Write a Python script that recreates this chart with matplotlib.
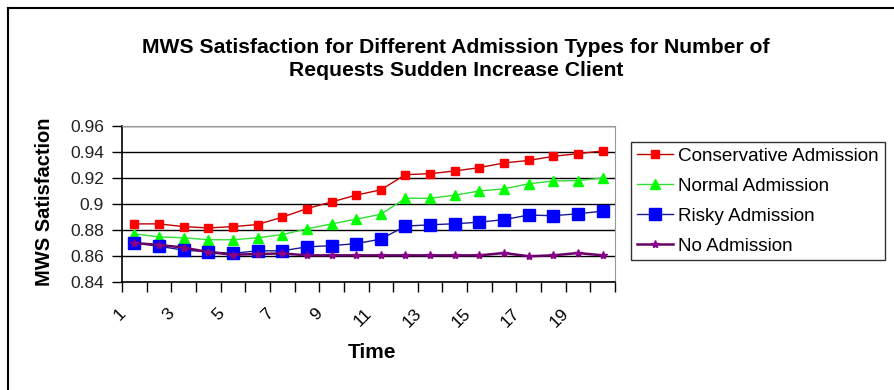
import matplotlib
matplotlib.use("Agg")
import matplotlib.pyplot as plt
from matplotlib.lines import Line2D
import matplotlib.transforms as mtransforms
from matplotlib import font_manager

names = {f.name for f in font_manager.fontManager.ttflist}
FONT = "Liberation Sans" if "Liberation Sans" in names else "DejaVu Sans"
plt.rcParams["font.family"] = FONT

time = list(range(1, 21))
tick_labels = ["1", "3", "5", "7", "9", "11", "13", "15", "17", "19"]
conservative = [0.8847, 0.8847, 0.8826, 0.8816, 0.8826, 0.8842, 0.8899, 0.8964, 0.9016, 0.9068,
                0.9109, 0.9226, 0.9233, 0.9254, 0.9280, 0.9316, 0.9335, 0.9367, 0.9387, 0.9408]
normal = [0.8770, 0.8747, 0.8740, 0.8725, 0.8725, 0.8740, 0.8765, 0.8808, 0.8847, 0.8883,
          0.8921, 0.9044, 0.9044, 0.9068, 0.9100, 0.9117, 0.9156, 0.9177, 0.9180, 0.9200]
risky = [0.8700, 0.8675, 0.8645, 0.8633, 0.8620, 0.8640, 0.8640, 0.8670, 0.8680, 0.8695,
         0.8730, 0.8830, 0.8840, 0.8848, 0.8860, 0.8880, 0.8915, 0.8910, 0.8925, 0.8945]
no_adm = [0.8700, 0.8685, 0.8665, 0.8630, 0.8610, 0.8615, 0.8620, 0.8605, 0.8605, 0.8605,
          0.8605, 0.8605, 0.8605, 0.8605, 0.8605, 0.8623, 0.8598, 0.8605, 0.8623, 0.8605]
yticks = [0.84, 0.86, 0.88, 0.90, 0.92, 0.94, 0.96]
ytick_labels = ["0.84", "0.86", "0.88", "0.9", "0.92", "0.94", "0.96"]

fig = plt.figure(figsize=(8.94, 3.9), dpi=100)
ax = fig.add_axes([122 / 894, 1 - 282 / 390, (615 - 122) / 894, (282 - 126) / 390])

ax.plot(time, conservative, color="#C00000", lw=1.0, marker="s", ms=6,
        mfc="#FF0000", mec="#FF0000", label="Conservative Admission", zorder=5)
ax.plot(time, normal, color="#33DD33", lw=1.0, marker="^", ms=7,
        mfc="#00FF00", mec="#00FF00", label="Normal Admission", zorder=5)
ax.plot(time, risky, color="#1A1A90", lw=1.0, marker="s", ms=9,
        mfc="#0000FF", mec="#0000FF", label="Risky Admission", zorder=5)
ax.plot(time, no_adm, color="#660066", lw=1.8, marker="*", ms=6,
        mfc="#880088", mec="#880088", label="No Admission", zorder=5)

ax.set_xlim(0.5, 20.5)
ax.set_ylim(0.84, 0.96)
ax.set_yticks(yticks)
ax.set_yticklabels(ytick_labels, fontsize=12.5, color="#222222")
ax.yaxis.grid(True, color="black", lw=1.0)
ax.set_axisbelow(True)

ax.set_xticks([i + 0.5 for i in range(0, 21)], minor=True)
ax.set_xticks([int(t) for t in tick_labels])
ax.set_xticklabels(tick_labels, fontsize=12.5, rotation=45, ha="right", va="top")
ax.tick_params(axis="x", which="major", length=0, pad=17)
ax.tick_params(axis="x", which="minor", length=7, width=1, direction="out")
ax.tick_params(axis="y", length=7, width=1, direction="out", pad=6)
off = mtransforms.ScaledTranslation(-6 / 100, 0, fig.dpi_scale_trans)
for lab in ax.get_xticklabels():
    lab.set_transform(lab.get_transform() + off)

for s in ["top", "right"]:
    ax.spines[s].set_color("#999999")
for s in ["left", "bottom"]:
    ax.spines[s].set_color("black")
    ax.spines[s].set_linewidth(1.2)

fig.text(45 / 894, 1 - 202 / 390, "MWS Satisfaction", fontsize=14.5, fontweight="bold",
         rotation=90, ha="center", va="center")
fig.text(372 / 894, 1 - 353 / 390, "Time", fontsize=15, fontweight="bold",
         ha="center", va="center")
fig.text(456 / 894, 1 - 59 / 390,
         "MWS Satisfaction for Different Admission Types for Number of\nRequests Sudden Increase Client",
         fontsize=15.2, fontweight="bold", ha="center", va="center", linespacing=1.25)

leg = ax.legend(loc="upper left", bbox_to_anchor=(631 / 894, 1 - 142 / 390),
                bbox_transform=fig.transFigure, fontsize=13.6, frameon=True,
                fancybox=False, edgecolor="black", handlelength=1.9,
                handletextpad=0.3, labelspacing=0.67, borderpad=0.3,
                borderaxespad=0)
leg.get_frame().set_linewidth(1.0)

fig.add_artist(Line2D([8 / 894, 8 / 894], [0, 1 - 8 / 390], transform=fig.transFigure,
                      color="black", lw=1.5))
fig.add_artist(Line2D([8 / 894, 1], [1 - 8 / 390, 1 - 8 / 390], transform=fig.transFigure,
                      color="black", lw=1.5))

fig.savefig("out.png", dpi=100)
